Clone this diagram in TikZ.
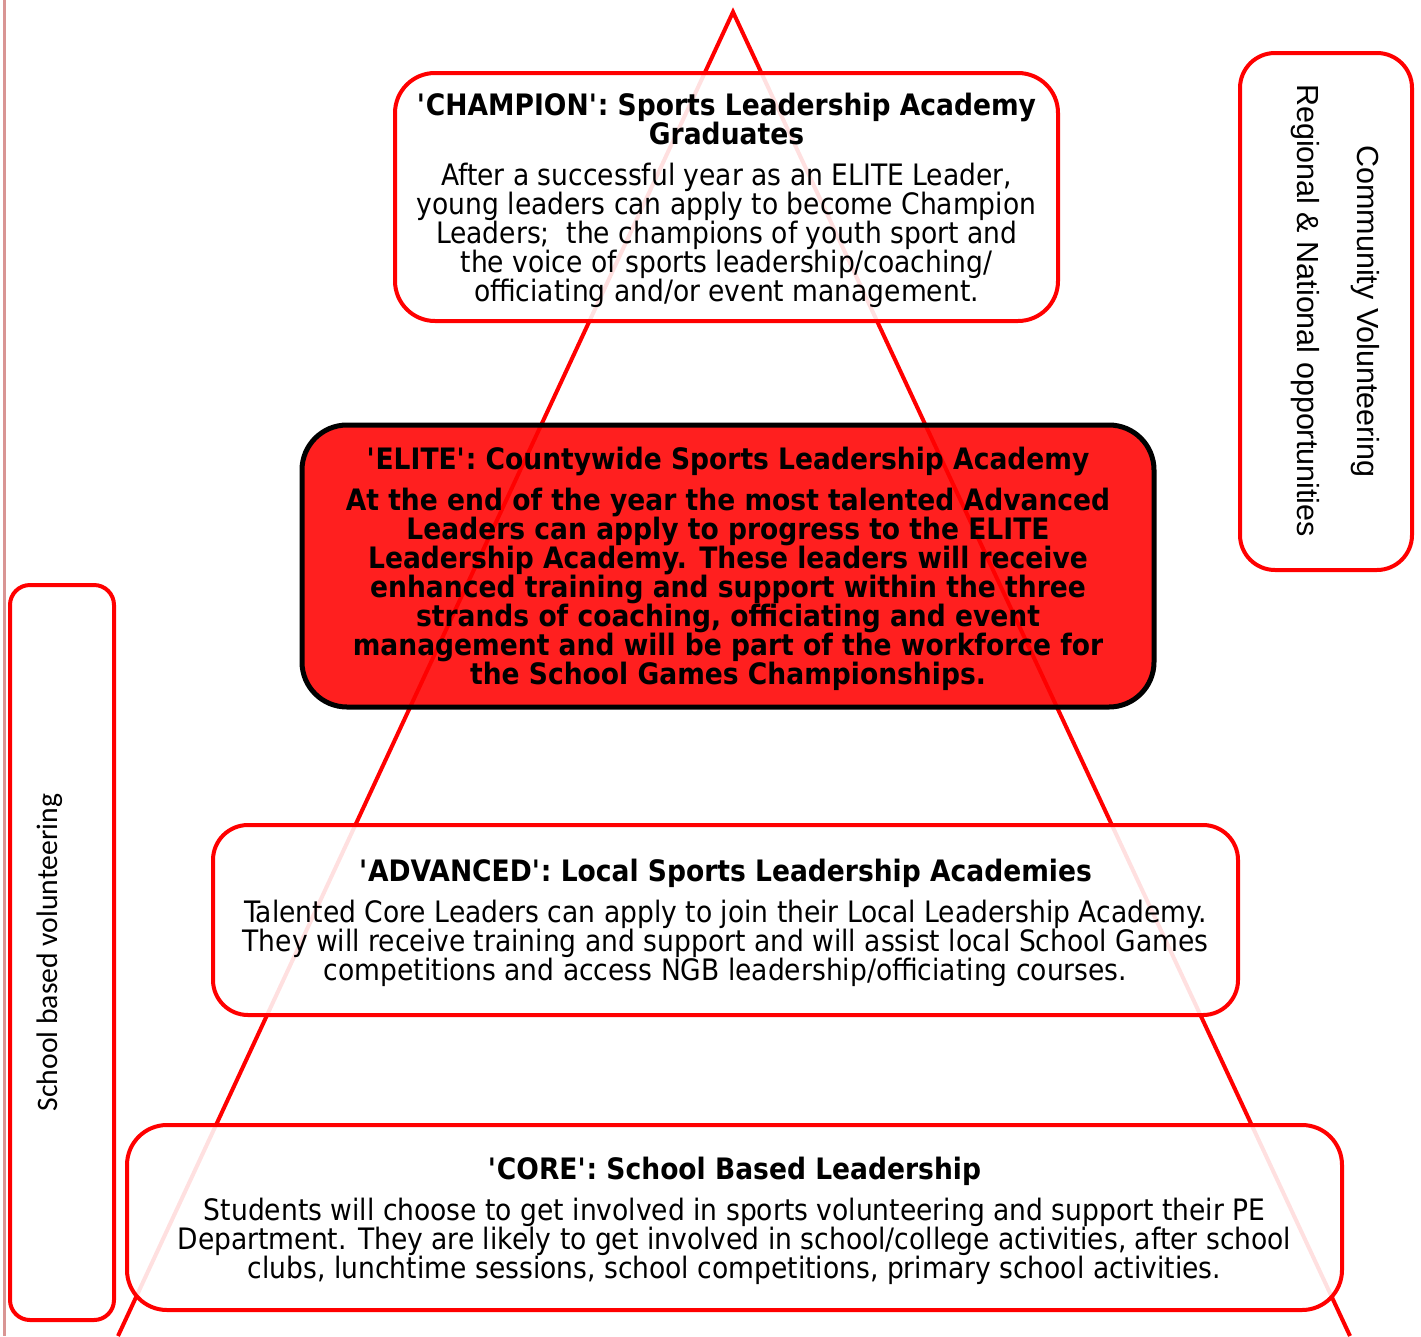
\documentclass[tikz,border=0pt]{standalone}
\usepackage{fontspec}
\setmainfont{DejaVu Sans}[FakeStretch=0.9]
\newfontfamily\sidefont{Carlito}
\newfontfamily\rightfont{Liberation Sans}
\definecolor{pinkline}{RGB}{217,149,148}
\newcommand{\sq}{\textquotesingle}
\begin{document}
\begin{tikzpicture}[x=1pt,y=-1pt,
  tier/.style={draw=red, line width=4pt, rounded corners=40pt, fill=white,
    fill opacity=0.88, inner sep=0pt},
  elitebox/.style={tier, draw=black, line width=5pt, fill=red, rounded corners=45pt},
  tiertext/.style={align=center, inner sep=0pt, yshift=-3pt,
    font=\fontsize{29.5}{29}\selectfont},
  elitetext/.style={tiertext, font=\bfseries\fontsize{29.5}{29}\selectfont},
  sidebox/.style={draw=red, line width=4pt, fill=white, inner sep=0pt},
  sidetext/.style={inner sep=0pt, font=\sidefont\fontsize{29.7}{29.7}\selectfont},
  righttext/.style={inner sep=0pt, font=\rightfont\fontsize{30.5}{30.5}\selectfont},
  pyramid/.style={draw=red, line width=4pt, line join=miter}
]
\useasboundingbox (0,0) rectangle (1421,1336);
% left page rule
\coordinate (ruletop) at (4,0);
\coordinate (rulebot) at (4,1336);
\draw[pinkline, line width=3pt] (ruletop) -- (rulebot);
% pyramid
\coordinate (apex) at (733,12);
\coordinate (baseL) at (118,1336);
\coordinate (baseR) at (1350,1336);
\draw[pyramid] (baseL) -- (apex) -- (baseR);
% side boxes
\node[sidebox, rounded corners=20pt, minimum width=104pt, minimum height=735pt] (school) at (62,952.5) {};
\node[sidetext, rotate=90] (schooltxt) at (50,952.5) {School based volunteering};
\node[sidebox, rounded corners=35pt, minimum width=172pt, minimum height=517pt] (community) at (1326,311.5) {};
\node[righttext, rotate=-90] (commtxt) at (1365,311.5) {Community Volunteering};
\node[righttext, rotate=-90] (regtxt) at (1305,310.5) {Regional \& National opportunities};
% tiers
\node[tier, minimum width=663pt, minimum height=248pt] (champion) at (726.5,197) {};
\node[tiertext] (championtxt) at (champion.center) {\textbf{\sq CHAMPION\sq: Sports Leadership Academy}\\
  \textbf{Graduates}\\[12pt]
  After a successful year as an ELITE Leader,\\
  young leaders can apply to become Champion\\
  Leaders;\ \ the champions of youth sport and\\
  the voice of sports leadership/coaching/\\
  officiating and/or event management.};
\node[elitebox, minimum width=852pt, minimum height=282pt] (elite) at (728,566) {};
\node[elitetext] (elitetxt) at (elite.center) {\sq ELITE\sq: Countywide Sports Leadership Academy\\[12pt]
  At the end of the year the most talented Advanced\\
  Leaders can apply to progress to the ELITE\\
  Leadership Academy. These leaders will receive\\
  enhanced training and support within the three\\
  strands of coaching, officiating and event\\
  management and will be part of the workforce for\\
  the School Games Championships.};
\node[tier, rounded corners=35pt, minimum width=1025pt, minimum height=190pt] (advanced) at (725.5,920) {};
\node[tiertext] (advancedtxt) at (advanced.center) {\textbf{\sq ADVANCED\sq: Local Sports Leadership Academies}\\[12pt]
  Talented Core Leaders can apply to join their Local Leadership Academy.\\
  They will receive training and support and will assist local School Games\\
  competitions and access NGB leadership/officiating courses.};
\node[tier, minimum width=1215pt, minimum height=185pt] (core) at (734.5,1217.5) {};
\node[tiertext] (coretxt) at (core.center) {\textbf{\sq CORE\sq: School Based Leadership}\\[12pt]
  Students will choose to get involved in sports volunteering and support their PE\\
  Department. They are likely to get involved in school/college activities, after school\\
  clubs, lunchtime sessions, school competitions, primary school activities.};
\end{tikzpicture}
\end{document}
